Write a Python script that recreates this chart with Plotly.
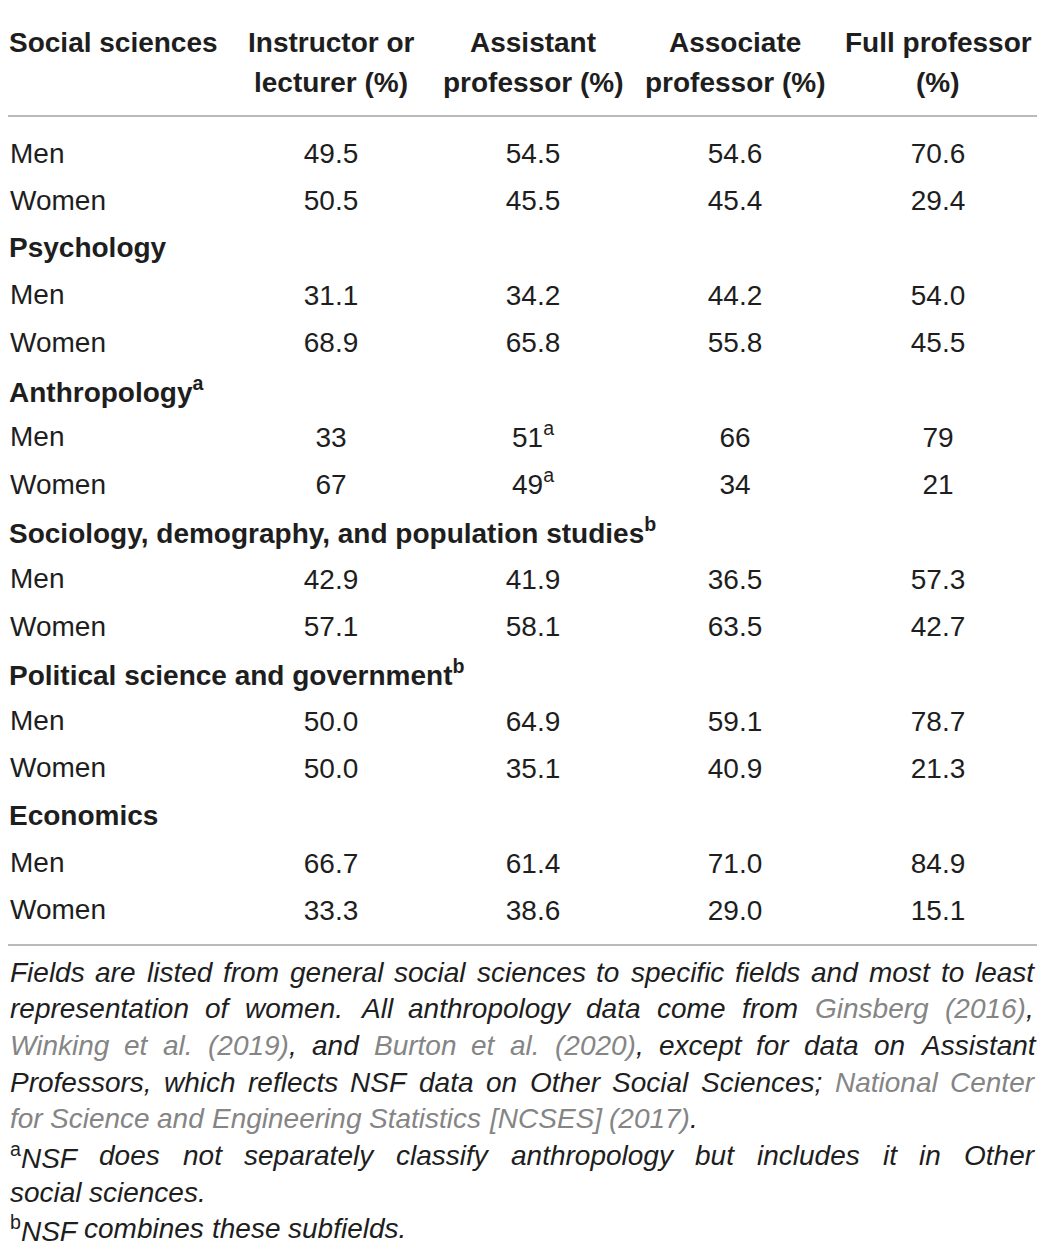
import plotly.graph_objects as go

# table content
columns = ["Instructor or<br>lecturer (%)", "Assistant<br>professor (%)",
           "Associate<br>professor (%)", "Full professor<br>(%)"]
fields = ["Social sciences", "Psychology", "Anthropology<sup>a</sup>",
          "Sociology, demography, and population studies<sup>b</sup>",
          "Political science and government<sup>b</sup>", "Economics"]
groups = ["Men", "Women"]
men = [["49.5", "54.5", "54.6", "70.6"],
       ["31.1", "34.2", "44.2", "54.0"],
       ["33", "51<sup>a</sup>", "66", "79"],
       ["42.9", "41.9", "36.5", "57.3"],
       ["50.0", "64.9", "59.1", "78.7"],
       ["66.7", "61.4", "71.0", "84.9"]]
women = [["50.5", "45.5", "45.4", "29.4"],
         ["68.9", "65.8", "55.8", "45.5"],
         ["67", "49<sup>a</sup>", "34", "21"],
         ["57.1", "58.1", "63.5", "42.7"],
         ["50.0", "35.1", "40.9", "21.3"],
         ["33.3", "38.6", "29.0", "15.1"]]

# footnote lines as (text, style) pieces: 0 plain, 1 citation (grey), 2 superscript
footnotes = [
    [("Fields are listed from general social sciences to specific fields and most to least", 0)],
    [("representation of women. All anthropology data come from ", 0), ("Ginsberg (2016)", 1), (",", 0)],
    [("Winking et al. (2019)", 1), (", and ", 0), ("Burton et al. (2020)", 1),
     (", except for data on Assistant", 0)],
    [("Professors, which reflects NSF data on Other Social Sciences; ", 0), ("National Center", 1)],
    [("for Science and Engineering Statistics [NCSES] (2017)", 1), (".", 0)],
    [("a", 2), ("NSF does not separately classify anthropology but includes it in Other", 0)],
    [("social sciences.", 0)],
    [("b", 2), ("NSF combines these subfields.", 0)],
]
justified = [True, True, True, True, False, True, False, False]

INK = "#1e1e1e"
GREY = "#858585"
RULE = "#a3a3a3"
FONT = "Liberation Sans"
SIZE = 28
NOTE_SIZE = 28
W, H = 1045, 1250
PAD = 8  # page margin of the html body
COL_X = [331, 533, 735, 938]
ROW0, ROW_H = 153, 47.3
NUM_DY = 3
HEAD_Y = [42, 82]
NOTE0, NOTE_H = 972, 36.7
NOTE_L, NOTE_R = 8.5, 1033
FIELD_X, GROUP_X = 8.2, 8.6

# Arial / Liberation Sans advance widths (1/1000 em)
AW = {" ": 278, ",": 278, ".": 278, ";": 278, "(": 333, ")": 333, "[": 278, "]": 278,
      "A": 667, "B": 667, "C": 722, "D": 722, "E": 667, "F": 611, "G": 778, "H": 722,
      "I": 278, "J": 500, "K": 667, "L": 556, "M": 833, "N": 722, "O": 778, "P": 667,
      "Q": 778, "R": 722, "S": 667, "T": 611, "U": 722, "V": 667, "W": 944, "X": 667,
      "Y": 667, "Z": 611, "a": 556, "b": 556, "c": 500, "d": 556, "e": 556, "f": 278,
      "g": 556, "h": 556, "i": 222, "j": 222, "k": 500, "l": 222, "m": 833, "n": 556,
      "o": 556, "p": 556, "q": 556, "r": 333, "s": 500, "t": 278, "u": 556, "v": 500,
      "w": 722, "x": 500, "y": 500, "z": 500}


def text_width(s, size):
    return sum(AW.get(c, 556) for c in s) / 1000 * size


def split_words(pieces):
    words, cur = [], []
    for txt, style in pieces:
        parts = txt.split(" ")
        for j, p in enumerate(parts):
            if j > 0 and cur:
                words.append(cur)
                cur = []
            if p:
                cur.append((p, style))
    if cur:
        words.append(cur)
    return words


def word_html(word):
    out = ""
    for txt, style in word:
        if style == 1:
            out += "<i><span style='color:%s'>%s</span></i>" % (GREY, txt)
        elif style == 2:
            out += "<sup>" + txt + "</sup>"
        else:
            out += "<i>" + txt + "</i>"
    return out


def word_width(word, size):
    return sum(text_width(t, size * (0.7 if s == 2 else 1)) for t, s in word)


fig = go.Figure()
ann = []

# header
ann.append(dict(x=FIELD_X, y=HEAD_Y[0], text="<b>Social sciences</b>", xanchor="left"))
for cx, col in zip(COL_X, columns):
    for k, part in enumerate(col.split("<br>")):
        ann.append(dict(x=cx, y=HEAD_Y[k], text="<b>" + part + "</b>", xanchor="center"))

# body rows
row = 0
for i, field in enumerate(fields):
    if i > 0:
        ann.append(dict(x=FIELD_X, y=ROW0 + ROW_H * row, text="<b>" + field + "</b>",
                        xanchor="left"))
        row += 1
    for g, vals in zip(groups, [men[i], women[i]]):
        y = ROW0 + ROW_H * row
        ann.append(dict(x=GROUP_X, y=y, text=g, xanchor="left"))
        fig.add_trace(go.Scatter(x=COL_X, y=[y + NUM_DY] * 4, text=vals, mode="text",
                                 textposition="middle center",
                                 textfont=dict(size=SIZE, color=INK, family=FONT),
                                 hoverinfo="skip", showlegend=False))
        row += 1

for a in ann:
    a.update(xref="x", yref="y", yanchor="middle", showarrow=False, borderpad=0,
             font=dict(size=SIZE, color=INK, family=FONT))

# footnotes, word by word so that full lines can be justified
for k, (pieces, just) in enumerate(zip(footnotes, justified)):
    words = split_words(pieces)
    widths = [word_width(w, NOTE_SIZE) for w in words]
    if just and len(words) > 1:
        gap = (NOTE_R - NOTE_L - sum(widths)) / (len(words) - 1)
    else:
        gap = text_width(" ", NOTE_SIZE)
    x = NOTE_L
    for w, wd in zip(words, widths):
        ann.append(dict(x=x, y=NOTE0 + NOTE_H * k, text=word_html(w),
                        xref="x", yref="y", xanchor="left", yanchor="middle",
                        showarrow=False, borderpad=0,
                        font=dict(size=NOTE_SIZE, color=INK, family=FONT)))
        x += wd + gap

rule_y = [5, 116, 945]
shapes = [dict(type="line", xref="x", yref="y", x0=8, x1=1038, y0=ry, y1=ry,
               line=dict(color=RULE, width=1.5)) for ry in rule_y]

fig.update_layout(
    width=W - 2 * PAD, height=H - 2 * PAD, margin=dict(l=0, r=0, t=0, b=0),
    paper_bgcolor="white", plot_bgcolor="white",
    xaxis=dict(range=[PAD, W - PAD], visible=False, fixedrange=True),
    yaxis=dict(range=[H - PAD, PAD], visible=False, fixedrange=True),
    annotations=ann, shapes=shapes,
)

fig.write_html("out.html")
